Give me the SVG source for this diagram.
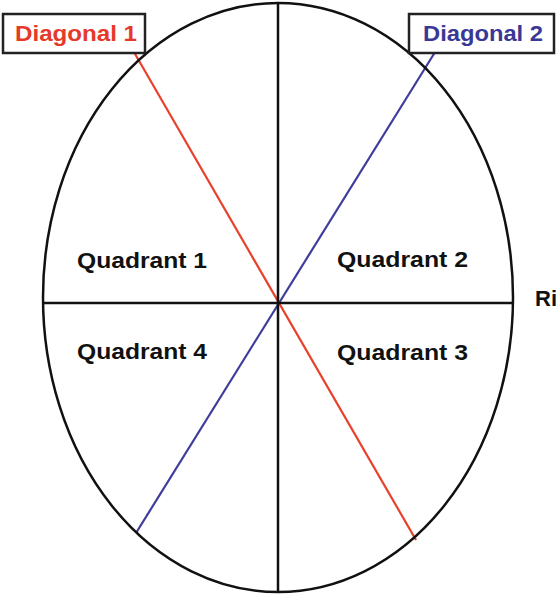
<svg xmlns="http://www.w3.org/2000/svg" width="558" height="595" viewBox="0 0 558 595">
<style>
.q{font-family:"Liberation Sans",Arial,sans-serif;font-weight:bold;font-size:22px;fill:#111}
.lbl{font-family:"Liberation Sans",Arial,sans-serif;font-weight:bold;font-size:22px}
.box{fill:#fff;stroke:#222;stroke-width:2.5}
.blk{stroke:#111;stroke-width:2.5;fill:none}
</style>
<rect width="558" height="595" fill="#fff"/>
<g id="connectors">
<line x1="134.5" y1="53" x2="416" y2="540" stroke="#e8412b" stroke-width="2.2"/>
<line x1="434.5" y1="53" x2="136" y2="533" stroke="#3f3d9c" stroke-width="2.2"/>
<line class="blk" x1="278" y1="3" x2="278" y2="592"/>
<line class="blk" x1="43" y1="303" x2="513" y2="303"/>
</g>
<g id="ellipse">
<ellipse class="blk" cx="278" cy="297.5" rx="235" ry="294.5"/>
</g>
<g id="diagonal1">
<rect class="box" x="3" y="14" width="142" height="39"/>
<text class="lbl" x="15" y="41" fill="#e5392a" textLength="122" lengthAdjust="spacingAndGlyphs">Diagonal 1</text>
</g>
<g id="diagonal2">
<rect class="box" x="409" y="14" width="145" height="39"/>
<text class="lbl" x="423" y="41" fill="#3a3896" textLength="120" lengthAdjust="spacingAndGlyphs">Diagonal 2</text>
</g>
<g id="quadrant1"><text class="q" x="77" y="268" textLength="130" lengthAdjust="spacingAndGlyphs">Quadrant 1</text></g>
<g id="quadrant2"><text class="q" x="337" y="267" textLength="131" lengthAdjust="spacingAndGlyphs">Quadrant 2</text></g>
<g id="quadrant3"><text class="q" x="337" y="360" textLength="131" lengthAdjust="spacingAndGlyphs">Quadrant 3</text></g>
<g id="quadrant4"><text class="q" x="77" y="359" textLength="130" lengthAdjust="spacingAndGlyphs">Quadrant 4</text></g>
<g id="right"><text class="q" x="535" y="306">Ri</text></g>
</svg>
